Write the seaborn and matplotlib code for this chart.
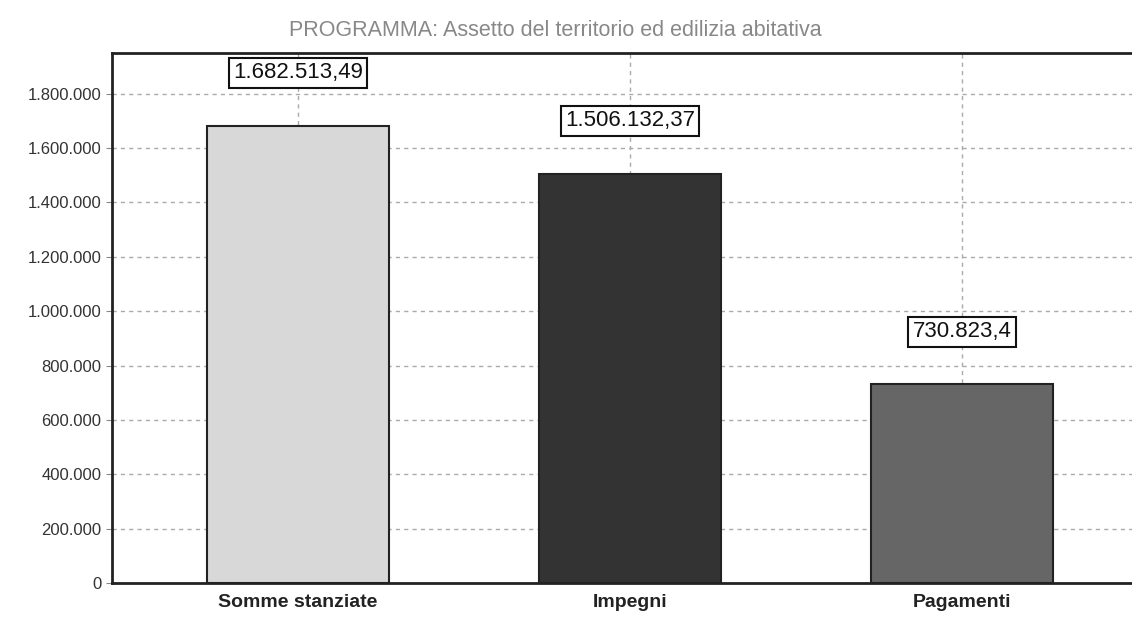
import pandas as pd
import seaborn as sns
import numpy as np
from matplotlib import pyplot as plt
from matplotlib import ticker

categorie = ["Somme stanziate", "Impegni", "Pagamenti"]
importi = [1682513.49, 1506132.37, 730823.4]
colori = ["#d8d8d8", "#333333", "#666666"]
titolo = "PROGRAMMA: Assetto del territorio ed edilizia abitativa"


def formato_it(x, decimali=0):
    s = "{:,.{d}f}".format(x, d=decimali)
    s = s.replace(",", "#").replace(".", ",").replace("#", ".")
    if decimali:
        s = s.rstrip("0").rstrip(",")
    return s


df = pd.DataFrame({"voce": categorie, "importo": importi})

sns.set_style("white")
plt.rcParams["font.family"] = ["Liberation Sans", "DejaVu Sans"]

fig = plt.figure(figsize=(11.32, 6.22), dpi=100)
# right side of the plot area runs past the picture, as in the original
ax = fig.add_axes([112 / 1132, 39 / 622, 1036 / 1132, 530 / 622])

sns.barplot(
    df,
    x="voce",
    y="importo",
    hue="voce",
    palette=colori,
    width=0.55,
    linewidth=1.5,
    edgecolor="#222222",
    saturation=1,
    legend=False,
    ax=ax,
)

ax.grid(True, axis="both", color="#aaaaaa", linestyle=(0, (3, 3)), linewidth=1)
ax.set_axisbelow(True)

for i, v in enumerate(importi):
    ax.annotate(
        formato_it(v, 2),
        xy=(i, v),
        xytext=(0, 38),
        textcoords="offset points",
        ha="center",
        va="center",
        fontsize=16,
        color="#111111",
        bbox=dict(boxstyle="square,pad=0.2", facecolor="white", edgecolor="#111111", linewidth=1.5),
    )

ax.set_ylim(0, 1950000)
ax.set_xlim(-0.56, 2.56)
ax.set_yticks(np.arange(0, 1800001, 200000))
ax.yaxis.set_major_formatter(ticker.FuncFormatter(lambda x, _: formato_it(x)))

ax.set_xlabel("")
ax.set_ylabel("")
ax.tick_params(axis="y", labelsize=12, labelcolor="#333333", length=4, color="#888888", left=True)
ax.tick_params(axis="x", labelsize=14, labelcolor="#222222", length=0, pad=8)
for lab in ax.get_xticklabels():
    lab.set_fontweight("bold")

for side in ["left", "bottom", "top"]:
    ax.spines[side].set_color("#222222")
    ax.spines[side].set_linewidth(2)
ax.spines["right"].set_visible(False)

fig.text(555 / 1132, 1 - 30 / 622, titolo, ha="center", va="center", fontsize=15.5, color="#888888")

plt.savefig("out.png", dpi=100)
